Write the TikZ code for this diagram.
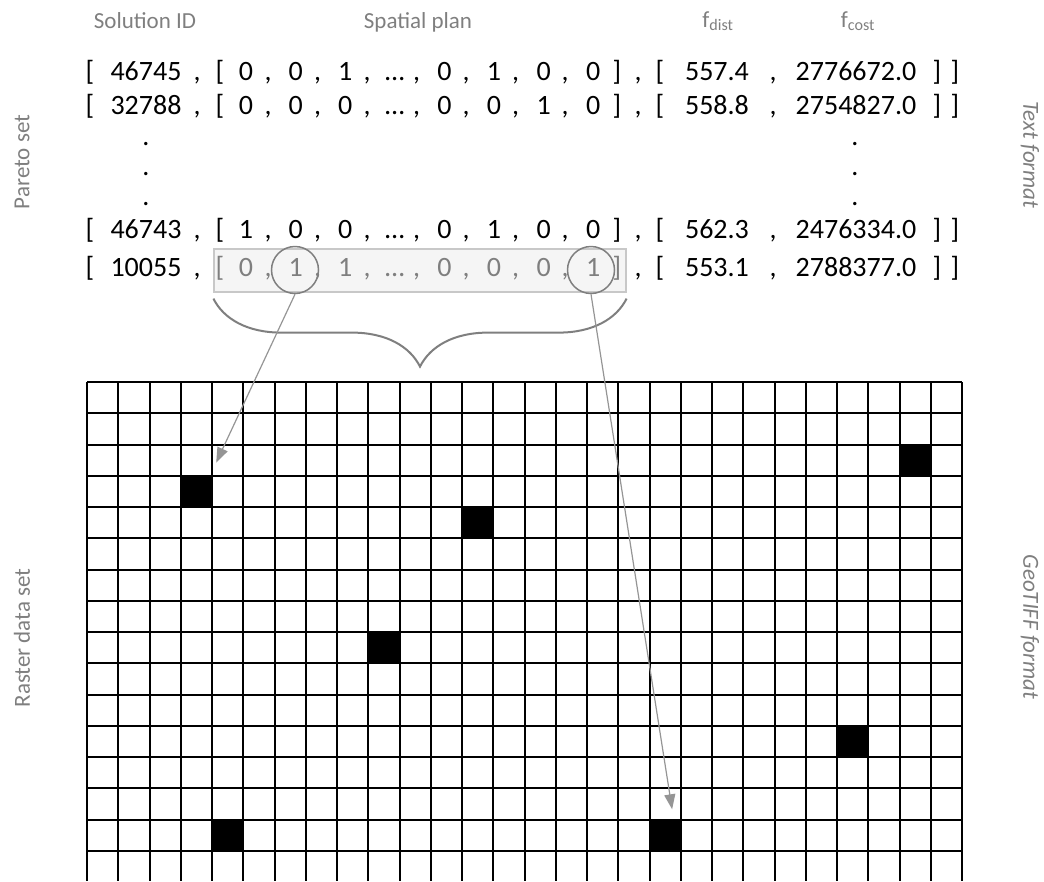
\documentclass[tikz,border=0pt]{standalone}
\usepackage{fontspec}
\setmainfont{Carlito}
\usetikzlibrary{calc,arrows.meta,decorations.pathreplacing}
\definecolor{labelgray}{HTML}{7F7F7F}
\definecolor{boxgray}{HTML}{F5F5F5}
\definecolor{boxline}{HTML}{C8C8C8}
\definecolor{arrowgray}{HTML}{959595}
\begin{document}
\begin{tikzpicture}[x=1pt,y=-1pt,
    tok/.style={inner sep=0pt,anchor=base,font=\fontsize{28}{30}\selectfont},
    hdr/.style={inner sep=0pt,anchor=base,text=labelgray,font=\fontsize{23}{26}\selectfont},
    side/.style={inner sep=0pt,text=labelgray,font=\fontsize{23}{26}\selectfont},
    sideit/.style={side,font=\fontsize{23}{26}\selectfont\itshape},
    gridline/.style={line width=2pt},
    pixel/.style={fill=black,inner sep=0pt,minimum size=31.25pt},
    planbox/.style={draw=boxline,fill=boxgray,line width=1.2pt,inner sep=0pt,minimum width=412pt,minimum height=43pt},
    pick/.style={circle,draw=labelgray,line width=1.5pt,minimum size=47pt,inner sep=0pt},
    link/.style={draw=arrowgray,line width=1.2pt,-{Triangle[length=15pt,width=11pt,fill=arrowgray]}},
    bracket/.style={draw=labelgray,line width=2pt,decorate,decoration={brace,mirror,amplitude=68pt}}]
    \useasboundingbox (0,0) rectangle (1044,881);
    % Judul kolom
    \node[hdr] (hid) at (145,28) {Solution ID};
    \node[hdr] (hplan) at (418,28) {Spatial plan};
    \node[hdr] (hdist) at (718,27) {f\textsubscript{dist}};
    \node[hdr] (hcost) at (858,27) {f\textsubscript{cost}};
    % Label samping
    \node[side,rotate=90] (pareto) at (22,162) {Pareto set};
    \node[side,rotate=90] (raster) at (22,638) {Raster data set};
    \node[sideit,rotate=-90] (txtfmt) at (1030,155) {Text format};
    \node[sideit,rotate=-90] (geofmt) at (1030,627) {GeoTIFF format};
    % Solusi terpilih
    \node[planbox] (plan) at (420,270.5) {};
    \node[pick] (c1) at (295,270) {};
    \node[pick] (c2) at (591,270) {};
    % Himpunan Pareto
    \foreach \y/\id/\plan/\fd/\fc/\pc [count=\r] in {
        80/46745/{0,0,1,…,0,1,0,0}/557.4/2776672.0/black,
        114/32788/{0,0,0,…,0,0,1,0}/558.8/2754827.0/black,
        238/46743/{1,0,0,…,0,1,0,0}/562.3/2476334.0/black,
        276/10055/{0,1,1,…,0,0,0,1}/553.1/2788377.0/labelgray} {
        \node[tok] (open\r) at (90,\y) {[};
        \node[tok] (id\r) at (146,\y) {\id};
        \node[tok] at (197,\y) {,};
        \node[tok,text=\pc] (po\r) at (220,\y) {[};
        \foreach \v [count=\k] in \plan
            \node[tok,text=\pc] (v\r-\k) at ({246+49.6*(\k-1)},\y) {\v};
        \foreach \k in {1,...,7}
            \node[tok,text=\pc] at ({268+49.5*(\k-1)},\y) {,};
        \node[tok,text=\pc] (pc\r) at (617,\y) {]};
        \node[tok] at (638,\y) {,};
        \node[tok] (fo\r) at (660,\y) {[};
        \node[tok] (fd\r) at (717,\y) {\fd};
        \node[tok] at (773,\y) {,};
        \node[tok] (fc\r) at (856,\y) {\fc};
        \node[tok] (fx\r) at (937,\y) {]};
        \node[tok] (close\r) at (955,\y) {]};
    }
    \foreach \d in {145,175,205} {
        \node[tok] at (146,\d) {.};
        \node[tok] at (855,\d) {.};
    }
    % Kurung kurawal
    \draw[bracket] ($(plan.south west)+(0,6)$) -- ($(plan.south east)+(0,6)$);
    % Data raster
    \foreach \c/\r in {3/3,26/2,12/4,9/8,24/11,4/14,18/14}
        \node[pixel] (px-\c-\r) at ({87+31.25*(\c+0.5)},{382+31.25*(\r+0.5)}) {};
    \foreach \c in {0,...,28}
        \draw[gridline] ({87+31.25*\c},382) -- ({87+31.25*\c},881);
    \foreach \r in {0,...,15}
        \draw[gridline] (87,{382+31.25*\r}) -- (962,{382+31.25*\r});
    % Panah
    \coordinate (tipA) at ($(px-3-3.north east)+(4,-13)$);
    \coordinate (tipB) at ($(px-18-14.north)+(7,-10)$);
    \draw[link] (c1.south) -- (tipA);
    \draw[link] (c2.south) -- (tipB);
\end{tikzpicture}
\end{document}
